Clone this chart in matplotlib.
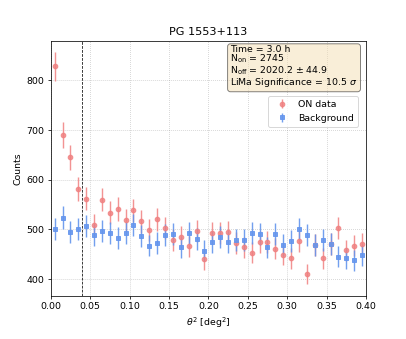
import numpy as np
import matplotlib
matplotlib.use('Agg')
import matplotlib.pyplot as plt

#--------------------------------------------------------------------------------------------------
# theta^2 histogram, bin width 0.01 deg^2
theta2 = np.arange(0.005, 0.4, 0.01)

on_counts = [828, 690, 645, 582, 562, 509, 560, 533, 541, 518,
             538, 516, 499, 520, 502, 478, 484, 466, 497, 440,
             492, 492, 495, 472, 464, 453, 475, 475, 461, 449,
             442, 476, 410, 468, 442, 471, 502, 458, 467, 471]

off_counts = [501.4, 523.5, 494.6, 500.7, 507, 489, 497, 492, 482, 492,
              509, 486, 467, 472, 489, 491, 464, 493, 480, 457,
              475, 485, 474, 479, 479, 493, 491, 464, 490, 468,
              476, 501, 488, 468, 479, 471, 445, 442, 438, 448]

on_err = np.sqrt(on_counts)
off_err = np.sqrt(off_counts)

theta2_cut = 0.04
info = ('Time = 3.0 h\n'
        '$\\mathrm{N_{on}}$ = 2745\n'
        '$\\mathrm{N_{off}}$ = 2020.2 ± 44.9\n'
        'LiMa Significance = 10.5 $\\sigma$')

#--------------------------------------------------------------------------------------------------
fig = plt.figure(figsize=(6, 5), dpi=67.83)
ax = fig.add_axes([0.1246, 0.1277, 0.7747, 0.7523])

ax.errorbar(theta2, on_counts, yerr=on_err, fmt='o', color='#F08080', ms=5,
            elinewidth=1.5, alpha=0.85, label='ON data')
ax.errorbar(theta2, off_counts, yerr=off_err, fmt='s', color='#6495ED', ms=5,
            elinewidth=1.5, alpha=0.9, label='Background')

ax.axvline(theta2_cut, color='black', ls='--', lw=0.8)

ax.set_xlim(0, 0.4)
ax.grid(True, ls=':', color='gray', alpha=0.5)
ax.set_xlabel('$\\theta^2$ [deg$^2$]')
ax.set_ylabel('Counts')
ax.set_title('PG 1553+113')

ax.text(0.57, 0.984, info, transform=ax.transAxes, fontsize=10, linespacing=0.9,
        va='top', ha='left',
        bbox=dict(boxstyle='round', facecolor='wheat', alpha=0.5))
ax.legend(loc='upper right', bbox_to_anchor=(0.99, 0.80))

plt.savefig('out.png', dpi=67.83)
